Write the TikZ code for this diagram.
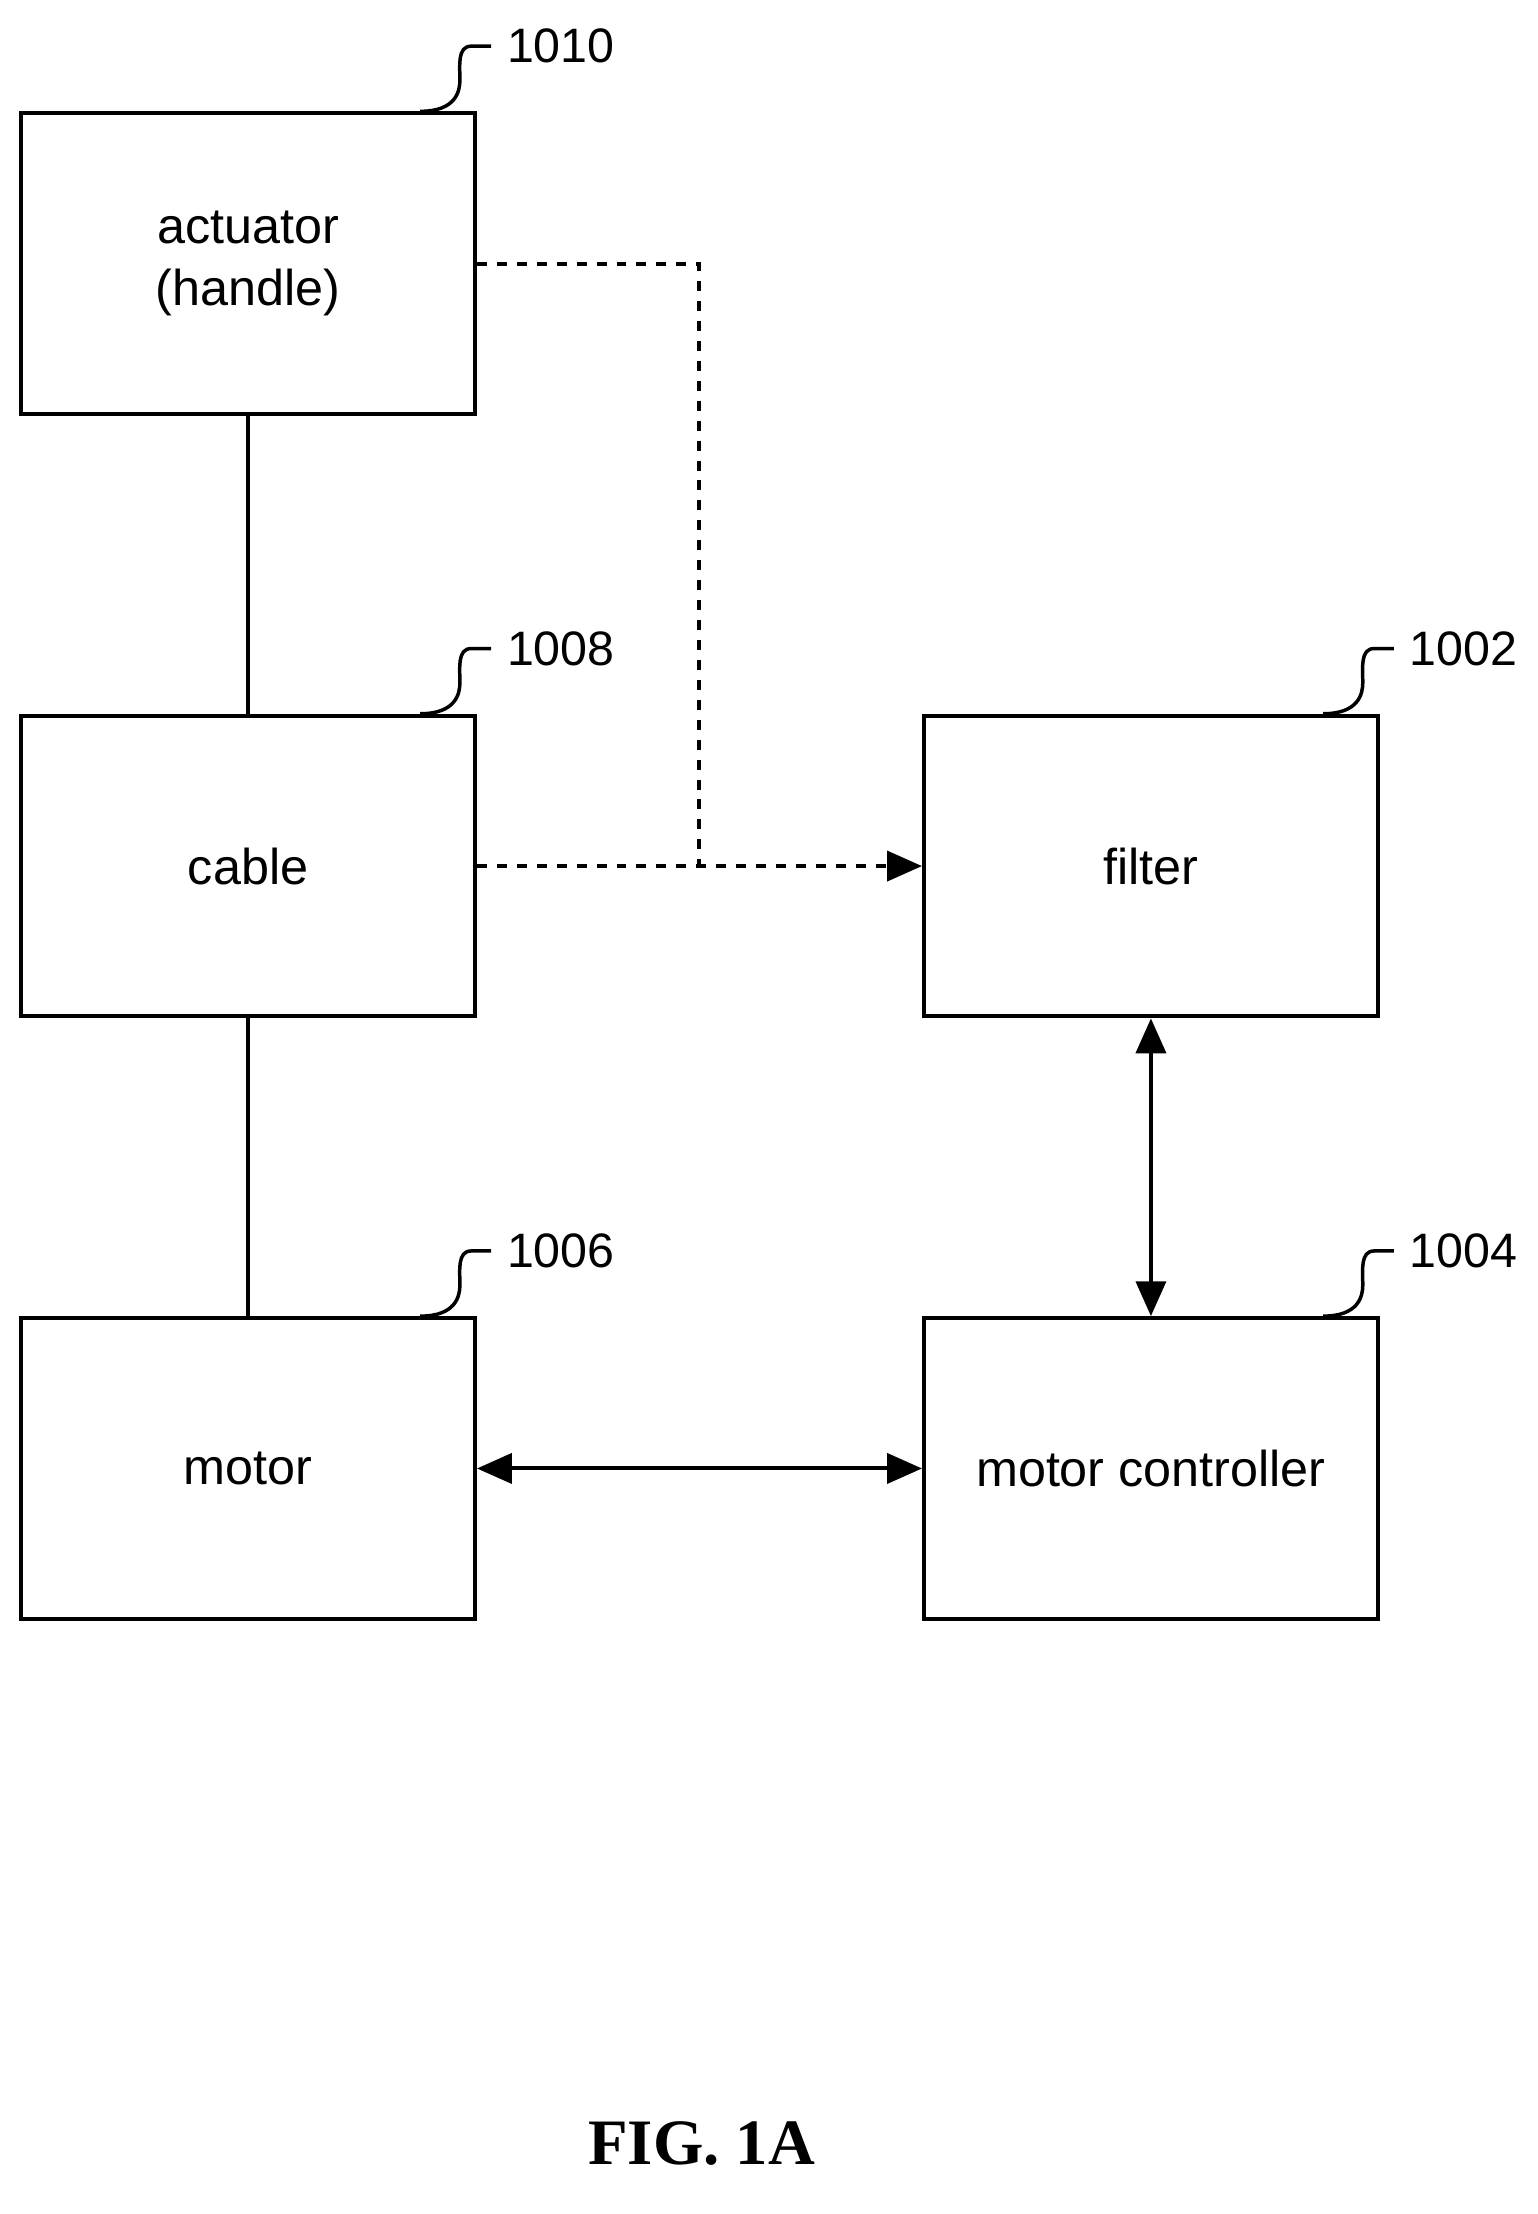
\documentclass[tikz,border=0pt]{standalone}
\usepackage{fontspec}
\setmainfont{Liberation Sans}
\newfontfamily\figfont{Liberation Serif}
\usetikzlibrary{arrows.meta}
\tikzset{
  blk/.style={draw, line width=0.8pt, minimum width=3.2cm, minimum height=2.12cm, align=center, font=\fontsize{10.1}{12.5}\selectfont},
  lead/.style={line width=0.7pt},
  refnum/.style={anchor=west, inner sep=0pt, font=\fontsize{9.7}{12}\selectfont},
  link/.style={line width=0.8pt, -{Triangle[length=7pt,width=6pt]}},
}
\begin{document}
\begin{tikzpicture}[x=0.01cm, y=-0.01cm]
    \useasboundingbox (0,0) rectangle (1085,1562);
    % Blocks
    \node[blk] (act) at (175,186) {actuator\\(handle)};
    \node[blk] (cab) at (175,611) {cable};
    \node[blk] (mot) at (175,1036) {motor};
    \node[blk] (fil) at (812,611) {filter};
    \node[blk] (ctl) at (812,1036) {motor controller};

    % Reference numerals with leaders
    \foreach \b/\n in {act/1010, cab/1008, mot/1006, fil/1002, ctl/1004}{
        \draw[lead] ([xshift=-0.4cm]\b.north east) .. controls +(25,0) and +(0,8) .. ++(28,-22)
            .. controls +(0,-10) and +(-10,0) .. ++(8,-24) -- ++(14,0) coordinate (\b-tip);
        \node[refnum] at ([xshift=3pt]\b-tip) {\n};
    }

    % Solid links
    \draw[line width=0.8pt] (act) -- (cab);
    \draw[line width=0.8pt] (cab) -- (mot);
    \draw[link, {Triangle[length=7pt,width=6pt]}-{Triangle[length=7pt,width=6pt]}] (mot) -- (ctl);
    \draw[link, {Triangle[length=7pt,width=6pt]}-{Triangle[length=7pt,width=6pt]}] (fil) -- (ctl);

    % Dotted links
    \coordinate (j) at (493,611);
    \draw[line width=0.8pt, dash pattern=on 2pt off 2pt] (act.east |- 0,186) -| (j);
    \draw[link, dash pattern=on 2pt off 2pt] (cab) -- (fil);

    % Caption
    \node[font=\figfont\bfseries\fontsize{13}{15}\selectfont] (cap) at (495,1512) {FIG. 1A};
\end{tikzpicture}
\end{document}
